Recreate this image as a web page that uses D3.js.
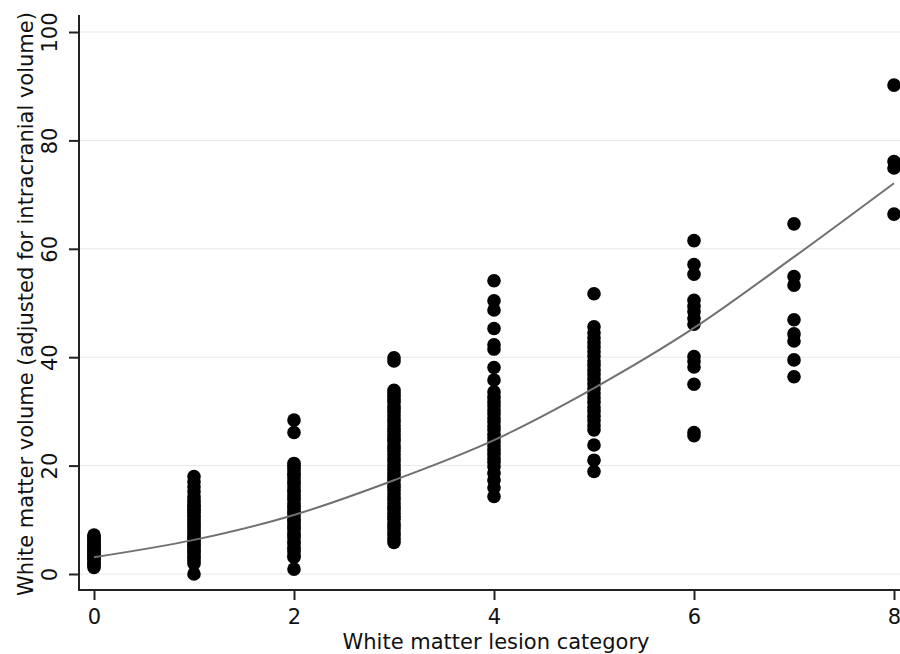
<!DOCTYPE html>
<html><head><meta charset="utf-8">
<script src="https://cdn.jsdelivr.net/npm/d3@7"></script>
<style>body{margin:0;background:#fff}svg{display:block}text{font-family:"DejaVu Sans",Verdana,sans-serif;fill:#111}</style>
</head><body><svg id="c" width="900" height="654"></svg>
<script>
const categories = [0,1,2,3,4,5,6,7,8];
const cat0 = [1.2,1.6,2.0,2.3,2.7,3.0,3.2,3.5,3.8,4.1,4.3,4.6,4.9,5.1,5.4,5.7,6.0,6.3,6.6,6.9,7.2];
const cat1 = [0.0,1.9,2.4,2.9,3.3,3.8,4.2,4.7,5.1,5.5,6.0,6.4,6.9,7.3,7.8,8.2,8.7,9.1,9.6,10.0,10.5,10.9,11.4,11.8,12.3,12.7,13.2,13.7,14.3,15.2,16.1,17.0,18.0];
const cat2 = [0.9,3.1,3.4,4.1,4.6,4.9,5.6,6.0,6.7,7.1,7.5,8.2,8.6,9.1,9.7,10.0,10.6,11.2,11.5,12.1,12.6,13.0,13.7,14.1,14.6,15.2,15.5,16.1,16.7,17.0,17.6,18.2,18.5,19.1,19.6,20.0,20.4,26.1,28.4];
const cat3 = [5.8,6.4,7.1,7.6,8.3,8.8,9.4,10.1,10.6,11.2,11.9,12.4,13.0,13.7,14.2,14.8,15.5,16.0,16.6,17.3,17.8,18.4,19.1,19.6,20.2,20.9,21.4,22.0,22.7,23.2,23.8,24.5,25.0,25.6,26.3,26.8,27.4,28.1,28.6,29.2,29.9,30.4,31.0,31.7,32.2,32.8,33.4,33.9,39.3,39.9];
const cat4 = [14.3,15.9,17.3,18.6,19.8,20.6,21.3,22.1,22.8,23.6,24.3,25.1,25.8,26.6,27.3,28.1,28.8,29.6,30.3,31.1,31.8,32.6,33.6,35.8,38.1,41.5,42.3,45.3,48.7,50.4,54.1];
const cat5 = [18.9,21.0,23.8,26.6,27.4,28.3,29.1,30.0,30.8,31.7,32.5,33.4,34.2,35.1,35.9,36.8,37.6,38.5,39.3,40.2,41.0,41.9,42.7,43.6,44.5,45.6,51.7];
const cat6 = [25.5,26.1,35.0,38.2,39.2,40.1,46.1,47.2,48.4,49.4,50.5,55.3,57.1,61.5];
const cat7 = [36.4,39.5,43.0,44.3,46.9,53.3,54.9,64.6];
const cat8 = [66.4,74.9,76.1,90.2];
const seriesByCategory = [cat0,cat1,cat2,cat3,cat4,cat5,cat6,cat7,cat8];
const fitValues = [3.1,6.3,10.9,17.3,24.7,34.3,45.4,58.5,72.1];
const xTicks = [0,2,4,6,8];
const yTicks = [0,20,40,60,80,100];
const xTitle = "White matter lesion category";
const yTitle = "White matter volume (adjusted for intracranial volume)";

const svg = d3.select("#c");
const x = d3.scaleLinear().domain([0,8]).range([94,894]);
const y = d3.scaleLinear().domain([0,100]).range([574,32]);
const axisX = 79, axisY = 590;
const FS = 21;

// gridlines
svg.append("g").selectAll("line").data(yTicks).join("line")
  .attr("x1", axisX).attr("x2", 900).attr("y1", d=>y(d)).attr("y2", d=>y(d))
  .attr("stroke", "#e8e8e8").attr("stroke-width", 1);

// y axis
const ya = svg.append("g").attr("transform", `translate(${axisX},0)`)
  .call(d3.axisLeft(y).tickValues(yTicks).tickSize(10).tickSizeOuter(0).tickFormat(d3.format("d")));
ya.select(".domain").attr("d", `M0,15V${axisY+1}`).attr("stroke", "#222").attr("stroke-width", 2);
ya.selectAll(".tick line").attr("stroke", "#222").attr("stroke-width", 2);
ya.selectAll(".tick text").attr("font-size", FS).attr("x", 0)
  .attr("text-anchor", "middle")
  .attr("transform", "translate(-30,0) rotate(-90)")
  .attr("dy", "0.36em");

// x axis
const xa = svg.append("g").attr("transform", `translate(0,${axisY})`)
  .call(d3.axisBottom(x).tickValues(xTicks).tickSize(10).tickSizeOuter(0).tickFormat(d3.format("d")));
xa.select(".domain").attr("d", `M${axisX-1},0H900`).attr("stroke", "#222").attr("stroke-width", 2);
xa.selectAll(".tick line").attr("stroke", "#222").attr("stroke-width", 2);
xa.selectAll(".tick text").attr("font-size", FS).attr("y", 34).attr("dy", 0);
svg.selectAll(".tick text").style("font-family", '"DejaVu Sans",Verdana,sans-serif').attr("fill", "#111");

// points
const pts = [];
seriesByCategory.forEach((vals,i)=>vals.forEach(v=>pts.push({c:categories[i], v})));
svg.append("g").selectAll("circle").data(pts).join("circle")
  .attr("cx", d=>x(d.c)).attr("cy", d=>y(d.v)).attr("r", 6.8).attr("fill", "#000");

// fit curve
const line = d3.line().x((d,i)=>x(categories[i])).y(d=>y(d)).curve(d3.curveMonotoneX);
svg.append("path").datum(fitValues).attr("d", line)
  .attr("fill", "none").attr("stroke", "#707070").attr("stroke-width", 2);

// titles
svg.append("text").attr("x", 496).attr("y", 649).attr("text-anchor", "middle")
  .attr("font-size", FS).text(xTitle);
svg.append("text").attr("transform", "translate(33,304) rotate(-90)").attr("text-anchor", "middle")
  .attr("font-size", FS).text(yTitle);
</script></body></html>
